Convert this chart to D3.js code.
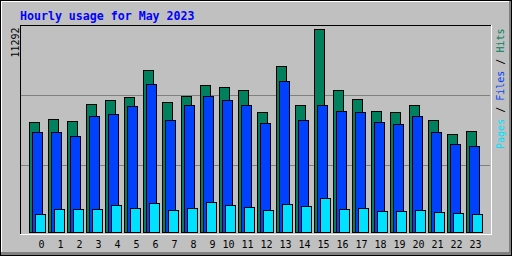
<!DOCTYPE html>
<html>
<head>
<meta charset="utf-8">
<script src="https://cdn.jsdelivr.net/npm/d3@7"></script>
<style>
  html, body { margin: 0; padding: 0; background: #c0c0c0; }
  svg { display: block; }
</style>
</head>
<body>
<script>
const title = "Hourly usage for May 2023";
const hours = d3.range(24).map(String);
const hits  = [6119, 6286, 6175, 7120, 7343, 7510, 9011, 7231, 7565, 8177, 8066, 7899,
               6675, 9234, 7064, 11292, 7899, 7398, 6731, 6675, 7064, 6230, 5451, 5618];
const files = [5563, 5563, 5340, 6453, 6564, 7009, 8233, 6230, 7064, 7565, 7343, 7064,
               6063, 8400, 6230, 7064, 6731, 6675, 6119, 6008, 6453, 5563, 4895, 4784];
const pages = [1001, 1279, 1279, 1279, 1502, 1335, 1613, 1224, 1335, 1669, 1502, 1391,
               1224, 1558, 1446, 1891, 1279, 1335, 1168, 1168, 1224, 1113, 1057, 1001];
const maxLabel = "11292";
const legend = [
  {text: "Pages", color: "#00e0ff"},
  {text: " / ", color: "#000000"},
  {text: "Files", color: "#0040ff"},
  {text: " / ", color: "#000000"},
  {text: "Hits", color: "#00805c"}
];

const W = 512, H = 256;
const svg = d3.select("body").append("svg")
  .attr("width", W).attr("height", H)
  .attr("shape-rendering", "crispEdges");

svg.append("rect").attr("x", 0).attr("y", 0).attr("width", W).attr("height", H).attr("fill", "#c0c0c0");

const line = (x1, y1, x2, y2, c) => svg.append("line")
  .attr("x1", x1).attr("y1", y1).attr("x2", x2).attr("y2", y2)
  .attr("stroke", c).attr("stroke-width", 1);

// outer 3D frame
svg.append("rect").attr("x", 0.5).attr("y", 0.5).attr("width", W - 1).attr("height", H - 1)
  .attr("fill", "none").attr("stroke", "#000");
line(1, 1.5, W - 2, 1.5, "#ffffff");
line(1.5, 1, 1.5, H - 2, "#ffffff");
svg.append("rect").attr("x", W - 3).attr("y", 1).attr("width", 2).attr("height", H - 2).attr("fill", "#808080");
svg.append("rect").attr("x", 1).attr("y", H - 4).attr("width", W - 2).attr("height", 3).attr("fill", "#808080");

// scales
const x = d3.scaleLinear().domain([0, 23]).range([29, 466]);
const y = d3.scaleLinear().domain([0, d3.max(hits)]).range([232, 29]);
const grid = d3.scaleLinear().domain([0, 3]).range([235, 25]);

// gridlines
[1, 2].forEach(k => {
  const gy = Math.round(grid(k)) + 0.5;
  line(21, gy, 490, gy, "#808080");
});

// plot frame
line(20, 25.5, 491, 25.5, "#000");
line(20.5, 25, 20.5, 235, "#000");
line(491.5, 25, 491.5, 235, "#ffffff");
line(20, 234.5, 492, 234.5, "#ffffff");

// bars
const series = [
  {data: hits,  color: "#00805c", off: 0},
  {data: files, color: "#0040ff", off: 3},
  {data: pages, color: "#00e0ff", off: 6}
];
series.forEach(s => {
  svg.append("g").selectAll("rect").data(s.data).join("rect")
    .attr("x", (d, i) => Math.round(x(i)) + s.off + 0.5)
    .attr("y", d => Math.round(y(d)) + 0.5)
    .attr("width", 10)
    .attr("height", d => 232 - Math.round(y(d)))
    .attr("fill", s.color)
    .attr("stroke", "#000")
    .attr("stroke-width", 1);
});

// hour labels
svg.append("g").selectAll("text").data(hours).join("text")
  .attr("x", (d, i) => Math.round(x(i)) + 15.5)
  .attr("y", 248)
  .attr("text-anchor", "end")
  .attr("font-family", "DejaVu Sans Mono")
  .attr("font-size", 10)
  .attr("fill", "#000")
  .text(d => d);

// title
svg.append("text")
  .attr("x", 20).attr("y", 19.5)
  .attr("font-family", "DejaVu Sans Mono")
  .attr("font-weight", "bold")
  .attr("font-size", 11.6)
  .attr("fill", "#0000ff")
  .text(title);

// max label (rotated)
svg.append("text")
  .attr("transform", "translate(19,27.5) rotate(-90)")
  .attr("text-anchor", "end")
  .attr("font-family", "DejaVu Sans Mono")
  .attr("font-size", 10)
  .attr("fill", "#000")
  .text(maxLabel);

// legend (rotated)
const lg = svg.append("text")
  .attr("transform", "translate(504,28.5) rotate(-90)")
  .attr("text-anchor", "end")
  .attr("font-family", "DejaVu Sans Mono")
  .attr("font-size", 10)
  .attr("xml:space", "preserve")
  .style("white-space", "pre");
lg.selectAll("tspan").data(legend).join("tspan")
  .attr("fill", d => d.color)
  .text(d => d.text);
</script>
</body>
</html>
